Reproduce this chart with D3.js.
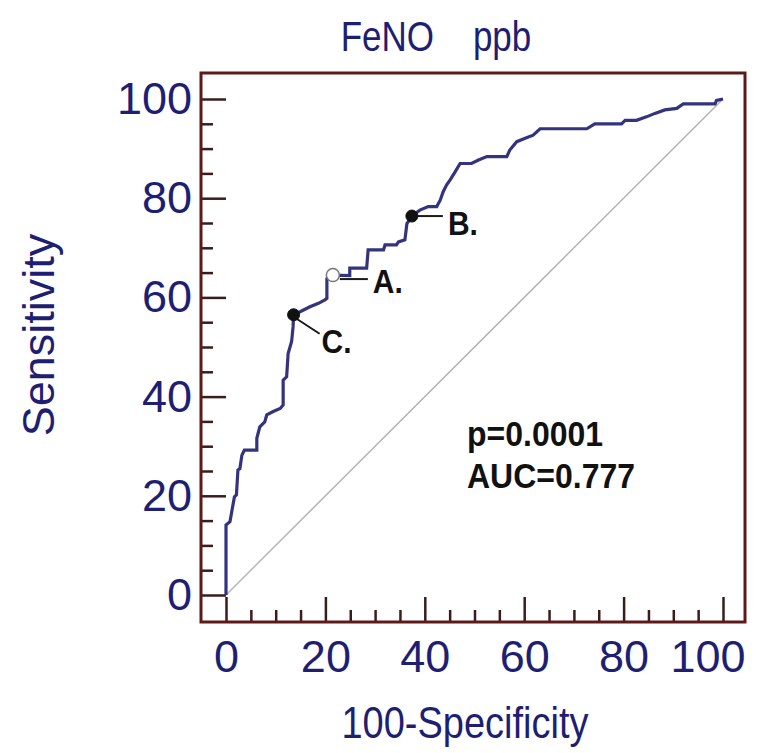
<!DOCTYPE html>
<html>
<head>
<meta charset="utf-8">
<script src="https://cdn.jsdelivr.net/npm/d3@7"></script>
<style>
  html, body { margin: 0; padding: 0; background: #ffffff; }
  svg { display: block; }
  text { font-family: "Liberation Sans", Arial, sans-serif; }
</style>
</head>
<body>
<svg id="chart" width="765" height="753"></svg>
<script>
// ROC curve for FeNO (ppb): 100-Specificity vs Sensitivity
const fpr = [0, 0, 0.8, 1.1, 1.7, 2.1, 2.4, 2.8, 3.2, 3.7, 6.2, 6.2, 6.8, 7.8, 8.2, 9.5, 10.9, 11.5,
  11.5, 12.2, 12.5, 13.2, 13.5, 13.6, 14.9, 16.9, 18.6, 19.9, 20.3, 20.3, 20.9, 21.5, 24.9, 24.9,
  28.3, 28.6, 31.7, 32.0, 34.3, 34.7, 36.0, 36.4, 37.4, 39.0, 40.7, 42.4, 43.1, 43.7, 44.4, 45.1,
  46.1, 47.1, 49.4, 50.8, 52.5, 56.5, 57.1, 58.5, 60.2, 61.8, 63.2, 72.6, 74.2, 79.6, 80.3, 82.6,
  84.6, 86.3, 88.3, 90.7, 92.0, 98.4, 98.7, 100];
const tpr = [0, 14.1, 14.8, 16.5, 19.8, 20.2, 25.2, 25.5, 28.2, 29.2, 29.2, 31.6, 33.9, 34.9, 36.3, 37.0, 37.6, 38.3,
  43.3, 44.0, 48.7, 51.1, 54.1, 56.5, 57.1, 58.1, 58.8, 59.5, 59.8, 63.8, 64.2, 64.5, 64.4, 65.9,
  65.9, 69.6, 69.6, 70.6, 70.6, 71.2, 71.6, 74.9, 76.4, 77.6, 78.3, 78.3, 79.6, 81.3, 82.7, 83.7,
  85.3, 87.0, 87.0, 87.7, 88.4, 88.4, 89.7, 91.4, 92.1, 92.7, 94.0, 94.0, 95.0, 95.0, 95.7, 95.7,
  96.4, 97.1, 97.8, 98.1, 99.0, 99.0, 99.7, 100];

// Marked cut-off points
const cutLabels = ["A.", "B.", "C."];
const cutFpr = [21.5, 37.4, 13.6];
const cutTpr = [64.5, 76.4, 56.5];

const majorTicks = [0, 20, 40, 60, 80, 100];
const minorTicks = [5, 10, 15, 25, 30, 35, 45, 50, 55, 65, 70, 75, 85, 90, 95];

const titleText = "FeNO    ppb";
const xTitle = "100-Specificity";
const yTitle = "Sensitivity";
const statLines = ["p=0.0001", "AUC=0.777"];

const svg = d3.select("#chart");

const frame = { left: 201, top: 73, right: 745, bottom: 622 };
const x = d3.scaleLinear().domain([0, 100]).range([226, 723]);
const y = d3.scaleLinear().domain([0, 100]).range([595, 99]);

const navy = "#1e1e72";
const tickColor = "#3a1c1c";

// Horizontal text with a slightly taller glyph shape
function tallText(px, py, sy) {
  return svg.append("text")
    .attr("transform", `translate(${px},${py}) scale(1,${sy})`);
}

// Title
tallText(436, 51, 1.2)
  .attr("text-anchor", "middle")
  .style("white-space", "pre")
  .attr("font-size", 35)
  .attr("fill", navy)
  .text(titleText);

// Diagonal reference line
svg.append("line")
  .attr("x1", x(0)).attr("y1", y(0))
  .attr("x2", x(100)).attr("y2", y(100))
  .attr("stroke", "#b4b4b4").attr("stroke-width", 1.5);

// Axes (ticks pointing inward from the frame)
function styleAxis(g) {
  g.select(".domain").remove();
  g.selectAll(".tick line").attr("stroke", tickColor).attr("stroke-width", 2.5);
  g.selectAll(".tick text").attr("fill", navy).attr("font-size", 45)
    .attr("font-family", "Liberation Sans, Arial, sans-serif");
}

svg.append("g")
  .attr("transform", `translate(${frame.left},0)`)
  .call(d3.axisLeft(y).tickValues(majorTicks).tickFormat(d3.format("d"))
    .tickSizeInner(-25).tickSizeOuter(0).tickPadding(9))
  .call(styleAxis);

svg.append("g")
  .attr("transform", `translate(${frame.left},0)`)
  .call(d3.axisLeft(y).tickValues(minorTicks).tickFormat("")
    .tickSizeInner(-12).tickSizeOuter(0))
  .call(styleAxis);

const xAxisG = svg.append("g")
  .attr("transform", `translate(0,${frame.bottom})`)
  .call(d3.axisBottom(x).tickValues(majorTicks).tickFormat(d3.format("d"))
    .tickSizeInner(-25).tickSizeOuter(0).tickPadding(18))
  .call(styleAxis);

// keep the last x label inside the frame's right edge
xAxisG.selectAll(".tick text")
  .filter(d => d === 100)
  .attr("text-anchor", "end")
  .attr("x", frame.right - x(100));

svg.append("g")
  .attr("transform", `translate(0,${frame.bottom})`)
  .call(d3.axisBottom(x).tickValues(minorTicks).tickFormat("")
    .tickSizeInner(-12).tickSizeOuter(0))
  .call(styleAxis);

// Frame
svg.append("rect")
  .attr("x", frame.left).attr("y", frame.top)
  .attr("width", frame.right - frame.left)
  .attr("height", frame.bottom - frame.top)
  .attr("fill", "none")
  .attr("stroke", "#5e1a1a").attr("stroke-width", 3);

// ROC curve
const pts = fpr.map((d, i) => [d, tpr[i]]);
svg.append("path")
  .datum(pts)
  .attr("fill", "none")
  .attr("stroke", "#34347e")
  .attr("stroke-width", 3.2)
  .attr("stroke-linejoin", "miter")
  .attr("d", d3.line().x(d => x(d[0])).y(d => y(d[1])));

// Cut-off markers with leader lines and labels
const leaders = [
  { dx1: 7, dy1: 4, dx2: 35, dy2: 4, tx: 40, ty: 18 },    // A.
  { dx1: 5, dy1: 0, dx2: 31, dy2: 0, tx: 36, ty: 19 },    // B.
  { dx1: 3, dy1: 4, dx2: 26, dy2: 19, tx: 28, ty: 38 }    // C.
];
cutLabels.forEach((lab, i) => {
  const cx = x(cutFpr[i]), cy = y(cutTpr[i]);
  const L = leaders[i];
  svg.append("line")
    .attr("x1", cx + L.dx1).attr("y1", cy + L.dy1)
    .attr("x2", cx + L.dx2).attr("y2", cy + L.dy2)
    .attr("stroke", "#1a1a1a").attr("stroke-width", 2);
  svg.append("circle")
    .attr("cx", cx).attr("cy", cy)
    .attr("r", i === 0 ? 6.5 : 6)
    .attr("fill", i === 0 ? "#ffffff" : "#111111")
    .attr("stroke", i === 0 ? "#777777" : "#111111")
    .attr("stroke-width", i === 0 ? 1.5 : 1);
  tallText(cx + L.tx, cy + L.ty, 1.08)
    .attr("font-size", 30).attr("font-weight", "bold")
    .attr("fill", "#111111")
    .text(lab);
});

// Statistics
statLines.forEach((s, i) => {
  tallText(467, 446 + i * 42, 1.12)
    .attr("font-size", 32).attr("font-weight", "bold")
    .attr("fill", "#111111")
    .text(s);
});

// Axis titles
tallText(465, 738, 1.15)
  .attr("text-anchor", "middle")
  .attr("font-size", 38).attr("fill", navy)
  .text(xTitle);

svg.append("text")
  .attr("transform", "translate(54,335) rotate(-90)")
  .attr("text-anchor", "middle")
  .attr("font-size", 45).attr("fill", navy)
  .text(yTitle);
</script>
</body>
</html>
